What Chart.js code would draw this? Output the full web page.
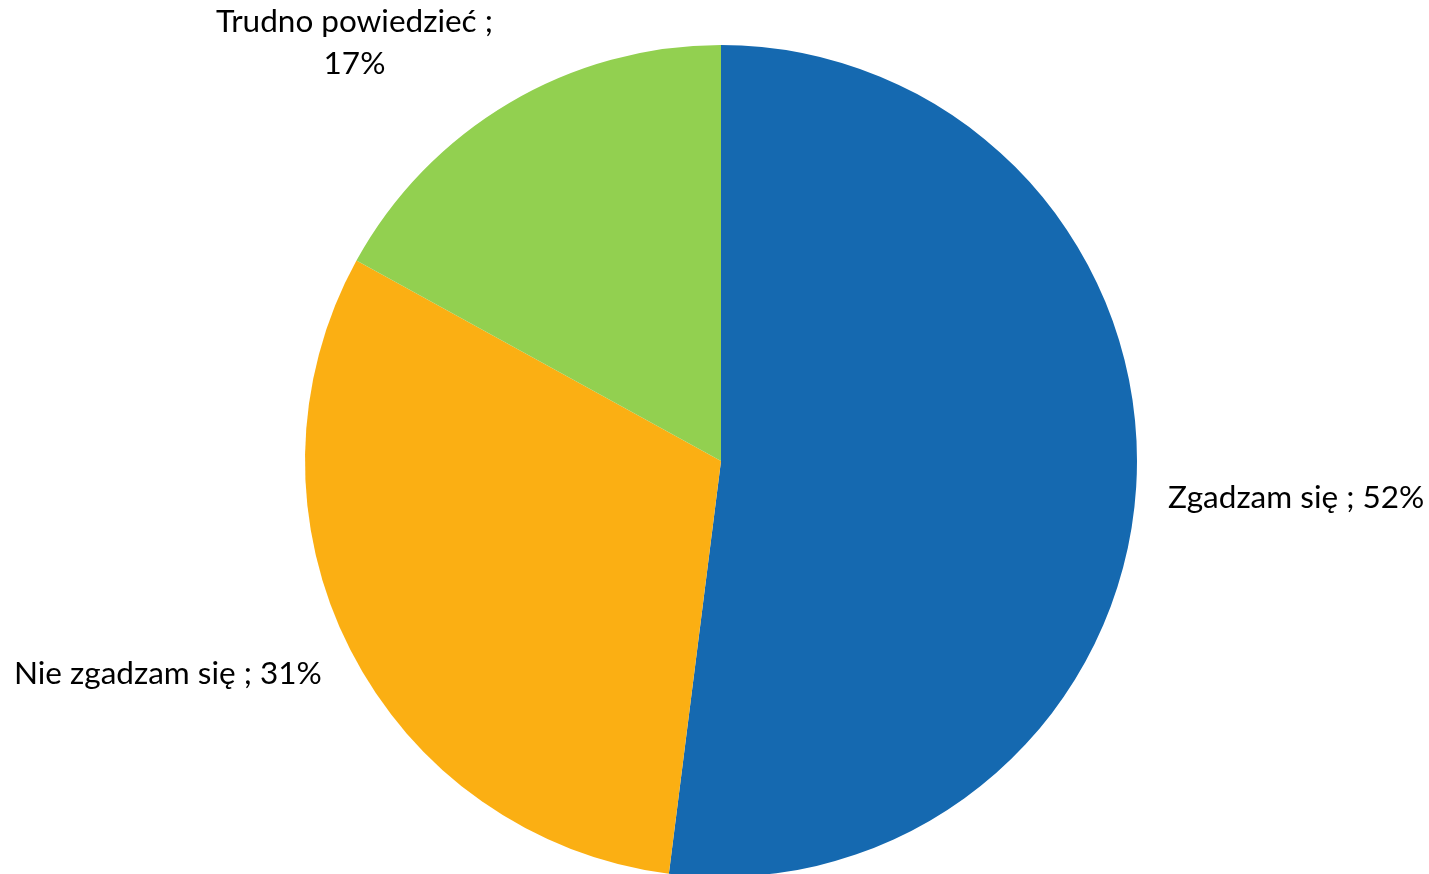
<!DOCTYPE html>
<html>
<head>
<meta charset="utf-8">
<script src="https://cdn.jsdelivr.net/npm/chart.js@4"></script>
<style>
  html, body { margin: 0; padding: 0; background: #fff; overflow: hidden; }
  #wrap { width: 1429px; height: 877px; }
</style>
</head>
<body>
<div id="wrap"><canvas id="pie"></canvas></div>
<script>
// data
const labels = ['Zgadzam się', 'Nie zgadzam się', 'Trudno powiedzieć'];
const values = [52, 31, 17];
const colors = ['#1569B0', '#FBAF13', '#92D050'];
// label lines as shown next to each slice
const labelLines = [
  ['Zgadzam się ; 52%'],
  ['Nie zgadzam się ; 31%'],
  ['Trudno powiedzieć ;', '17%']
];

// draw the outside labels from each arc's own geometry
const outsideLabels = {
  id: 'outsideLabels',
  afterDraw(chart) {
    const ctx = chart.ctx;
    const meta = chart.getDatasetMeta(0);
    ctx.save();
    ctx.font = '31.5px Lato, "Open Sans", sans-serif';
    ctx.fillStyle = '#000';
    const lh = 42;
    meta.data.forEach((arc, i) => {
      const mid = (arc.startAngle + arc.endAngle) / 2;
      const r = arc.outerRadius + 32;
      const x = arc.x + Math.cos(mid) * r;
      const y = arc.y + Math.sin(mid) * r + 9;
      const lines = labelLines[i];
      const w = Math.max(...lines.map(l => ctx.measureText(l).width));
      let left = x > arc.x ? x : x - w;
      let top;
      if (y < arc.y - arc.outerRadius * 0.7) top = y - lines.length * lh;
      else top = y - lines.length * lh / 2;
      ctx.textBaseline = 'middle';
      ctx.textAlign = 'center';
      lines.forEach((l, j) => {
        ctx.fillText(l, left + w / 2, top + lh * j + lh / 2);
      });
    });
    ctx.restore();
  }
};

new Chart(document.getElementById('pie'), {
  type: 'pie',
  data: {
    labels: labels,
    datasets: [{
      data: values,
      backgroundColor: colors,
      borderWidth: 0
    }]
  },
  options: {
    responsive: true,
    maintainAspectRatio: false,
    animation: false,
    layout: { padding: { top: 45, bottom: 0, left: 13, right: 0 } },
    plugins: {
      legend: { display: false },
      tooltip: { enabled: false }
    }
  },
  plugins: [outsideLabels]
});
</script>
</body>
</html>
